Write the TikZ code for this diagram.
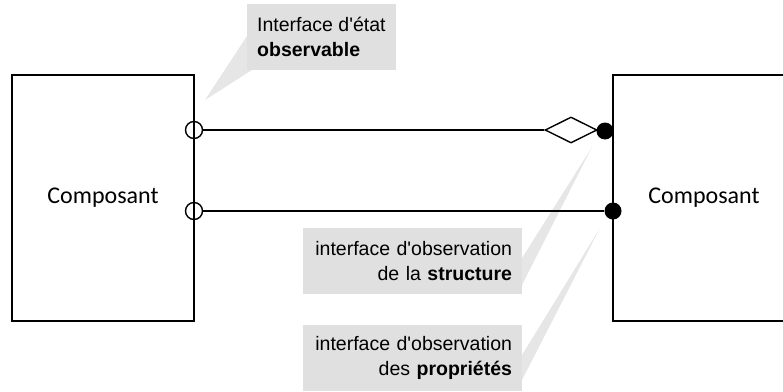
\documentclass[tikz,border=0pt]{standalone}
\usepackage{fontspec}
\newfontfamily\arial{Liberation Sans}
\newfontfamily\carl{Carlito}
\usetikzlibrary{shapes.geometric}
\definecolor{callgray}{RGB}{224,224,224}
\definecolor{tailgray}{RGB}{230,230,230}
\begin{document}
\begin{tikzpicture}[x=1pt,y=-1pt,
  comp/.style={draw, line width=1.6pt, minimum width=182pt, minimum height=246pt, inner sep=0pt, font=\carl\fontsize{24}{28}\selectfont},
  callout/.style={fill=callgray, inner xsep=10pt, inner ysep=0pt, minimum height=66pt, font=\arial\fontsize{19.5}{24.5}\selectfont},
  port/.style={circle, draw, line width=1.4pt, minimum size=17pt, inner sep=0pt},
  dot/.style={circle, fill=black, minimum size=17pt, inner sep=0pt},
  agg/.style={diamond, draw, line width=1.4pt, fill=white, minimum width=52pt, minimum height=26pt, inner sep=0pt},
  conn/.style={line width=1.6pt}]
\path[use as bounding box, clip] (0,0) rectangle (783,391);
% callout tails
\coordinate (tip1) at (205,100);
\coordinate (tip2) at (592,147);
\coordinate (tip3) at (600,228);
\fill[tailgray] (tip1) -- (247,36) -- (252,70) -- cycle;
\fill[tailgray] (tip2) -- (522,258) -- (522,285) -- cycle;
\fill[tailgray] (tip3) -- (522,355) -- (522,380) -- cycle;
% callouts
\node[callout, align=left, anchor=west] (obs) at (247,37) {Interface d'état\\\textbf{observable}};
\node[callout, text width=199pt, align=right, minimum width=219pt] (str) at (412.5,261) {interface d'observation\\de la \textbf{structure}};
\node[callout, text width=199pt, align=right, minimum width=219pt] (prop) at (412.5,358) {interface d'observation\\des \textbf{propriétés}};
% components
\node[comp] (left) at (103,198) {Composant};
\node[comp] (right) at (704,198) {Composant};
% ports
\node[port] (o1) at (194,130) {};
\node[port] (o2) at (194,211) {};
\node[agg] (dia) at (571,130) {};
\node[dot] (d1) at (605,131) {};
\node[dot] (d2) at (613,211) {};
\draw[conn] (o1) -- (dia);
\draw[conn] (o2) -- (d2);
\end{tikzpicture}
\end{document}
